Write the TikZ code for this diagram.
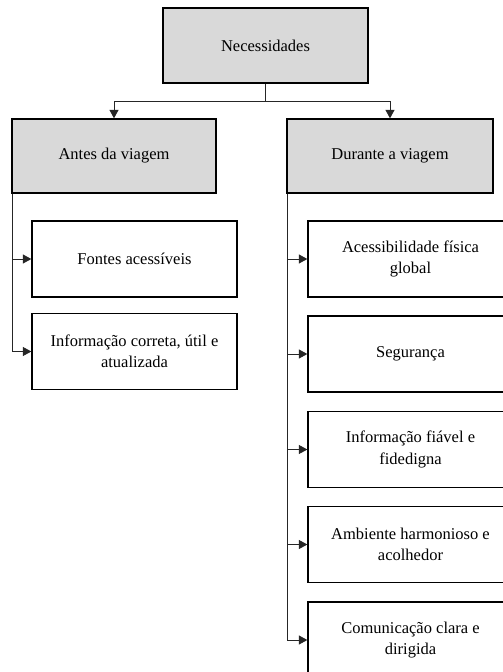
\documentclass[tikz,border=0pt]{standalone}
\usepackage{fontspec}
\setmainfont{Liberation Serif}
\usetikzlibrary{arrows.meta}
\begin{document}
\begin{tikzpicture}[x=1pt,y=1pt,
  gbox/.style={draw=black, line width=1.3pt, fill=boxgray, minimum width=205pt, minimum height=75pt, inner sep=0pt, align=center, font=\fontsize{16.5}{21.5}\selectfont},
  wbox/.style={draw=black, line width=1.3pt, fill=white, minimum width=205pt, minimum height=76pt, inner sep=0pt, align=center, font=\fontsize{16.5}{21.5}\selectfont},
  conn/.style={draw=black!85, line width=0.9pt},
  arr/.style={conn, -{Triangle[length=8.5pt,width=9pt]}}]
\definecolor{boxgray}{HTML}{D9D9D9}
\useasboundingbox (0,0) rectangle (503,-672);
\node[gbox, minimum width=205pt] (nec) at (265.5,-45.5) {Necessidades};
\node[gbox, minimum width=204pt, minimum height=74pt] (antes) at (114,-156) {Antes da viagem};
\node[gbox, minimum width=206pt, minimum height=74pt] (dur) at (390,-156) {Durante a viagem};
\node[wbox] (a1) at (134.5,-259) {Fontes acessíveis};
\node[wbox] (a2) at (134.5,-351.5) {Informação correta, útil e\\atualizada};
\node[wbox] (d1) at (410.5,-259) {Acessibilidade física\\global};
\node[wbox] (d2) at (410.5,-354) {Segurança};
\node[wbox] (d3) at (410.5,-449.5) {Informação fiável e\\fidedigna};
\node[wbox] (d4) at (410.5,-544.5) {Ambiente harmonioso e\\acolhedor};
\node[wbox] (d5) at (410.5,-640) {Comunicação clara e\\dirigida};
\draw[conn] (nec.south) -- ++(0,-18) coordinate (j);
\draw[arr] (j) -| (antes.north);
\draw[arr] (j) -| (dur.north);
\foreach \c in {a1,a2} \draw[arr] ([xshift=0.6pt]antes.south west) |- (\c.west);
\foreach \c in {d1,d2,d3,d4,d5} \draw[arr] ([xshift=0.6pt]dur.south west) |- (\c.west);
\end{tikzpicture}
\end{document}
